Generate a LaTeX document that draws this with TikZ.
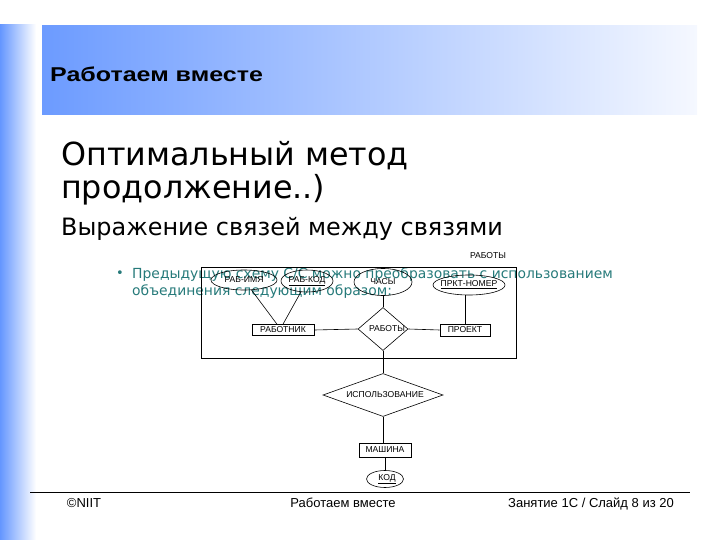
\documentclass[tikz,border=0pt]{standalone}
\usepackage{graphicx}
\usepackage{fontspec}
\setmainfont{DejaVu Sans}
\newfontfamily\arialf{Liberation Sans}
\usetikzlibrary{shapes.geometric,calc}
\definecolor{barblue}{RGB}{100,150,255}
\definecolor{bandblue}{RGB}{108,155,255}
\definecolor{bandwhite}{RGB}{245,248,255}
\definecolor{tealtext}{RGB}{38,122,122}
\tikzset{
  erfont/.style={font=\arialf\fontsize{8.6}{9}\selectfont},
  ent/.style={draw, rectangle, inner sep=0pt, erfont},
  attr/.style={draw, ellipse, inner sep=0pt},
  rel/.style={draw, diamond, inner sep=0pt},
  lbl/.style={inner sep=0pt, erfont},
  foot/.style={inner sep=0pt, anchor=base, font=\arialf\fontsize{13}{14}\selectfont},
  er/.style={line width=0.6pt}
}
\begin{document}
\begin{tikzpicture}[x=1pt,y=-1pt]
\useasboundingbox (0,0) rectangle (720,540);
% left bar
\shade[left color=barblue, right color=white] (0,25) rectangle (36,540);
% header band
\shade[shading=axis, shading angle=-60, left color=bandblue, right color=bandwhite] (42,26) rectangle (697,115);
\node[anchor=base west, inner sep=0pt, font=\arialf\bfseries\fontsize{20}{22}\selectfont] (title) at (50,82) {\scalebox{1.25}[1]{Работаем вместе}};
% headings
\node[anchor=base west, inner sep=0pt, font=\fontsize{31.8}{36}\selectfont] (h1) at (61,166) {Оптимальный метод};
\node[anchor=base west, inner sep=0pt, font=\fontsize{31.8}{36}\selectfont] (h2) at (61,199) {продолжение..)};
\node[anchor=base west, inner sep=0pt, font=\fontsize{23.9}{26}\selectfont] (h3) at (61,236) {Выражение связей между связями};
% bullet
\node[anchor=base, inner sep=0pt, text=tealtext, font=\fontsize{13}{14}\selectfont] (bul) at (120,277) {•};
\node[anchor=base west, inner sep=0pt, text=tealtext, font=\fontsize{13.9}{16}\selectfont] (b1) at (132,278) {Предыдущую схему С/С можно преобразовать с использованием};
\node[anchor=base west, inner sep=0pt, text=tealtext, font=\fontsize{13.9}{16}\selectfont] (b2) at (132,295) {объединения следующим образом:};
% diagram
\node[draw, er, rectangle, minimum width=315, minimum height=91, inner sep=0pt] (box) at (358.5,312.5) {};
\node[lbl] (boxlbl) at (488,256) {РАБОТЫ};
\node[attr, er, minimum width=66, minimum height=20] (rabimya) at (244,280) {};
\node[lbl] (rabimyat) at (rabimya) {РАБ-ИМЯ};
\node[attr, er, minimum width=52, minimum height=22] (rabkod) at (307,281) {};
\node[lbl] (rabkodt) at (rabkod) {\underline{РАБ-КОД}};
\node[attr, er, minimum width=58, minimum height=27] (chasy) at (383,282) {};
\node[lbl] (chasyt) at (chasy) {ЧАСЫ};
\node[attr, er, minimum width=72, minimum height=20] (prkt) at (469,285) {};
\node[lbl] (prktt) at (prkt) {\underline{ПРКТ-НОМЕР}};
\node[ent, er, minimum width=62, minimum height=11] (rabotnik) at (283,330) {РАБОТНИК};
\node[rel, er, minimum width=50, minimum height=43] (raboty) at (383,329) {};
\node[lbl] (rabotyt) at ($(raboty)+(4,0)$) {РАБОТЫ};
\node[ent, er, minimum width=50, minimum height=12] (proekt) at (465,330) {ПРОЕКТ};
\node[rel, er, minimum width=120, minimum height=43] (isp) at (383,395) {};
\node[lbl] (ispt) at ($(isp)+(2,0)$) {ИСПОЛЬЗОВАНИЕ};
\node[ent, er, minimum width=52, minimum height=14] (mashina) at (385,450) {МАШИНА};
\node[attr, er, minimum width=37, minimum height=17] (kod) at (385,479) {};
\node[lbl] (kodt) at ($(kod)+(2,0)$) {\underline{КОД}};
\draw[er] (rabimya) -- ($(rabotnik.north)+(-6,0)$);
\draw[er] (rabkod) -- (rabotnik.north);
\draw[er] (chasy) -- (raboty.north);
\draw[er] (prkt.south -| proekt.north) -- (proekt.north);
\draw[er] (rabotnik.east) -- (raboty.west);
\draw[er] (raboty.east) -- (proekt.west);
\draw[er] (raboty.south) -- (isp.north);
\draw[er] (isp.south) -- (isp.south |- mashina.north);
\draw[er] (mashina.south) -- (mashina.south |- kod.north);
% footer
\coordinate (fl) at (30,492);
\coordinate (fr) at (690,492);
\draw[line width=0.8pt] (fl) -- (fr);
\node[foot] (f1) at (84,507) {©NIIT};
\node[foot] (f2) at (343,507) {Работаем вместе};
\node[foot] (f3) at (591,507) {Занятие 1С / Слайд 8 из 20};
\end{tikzpicture}
\end{document}
